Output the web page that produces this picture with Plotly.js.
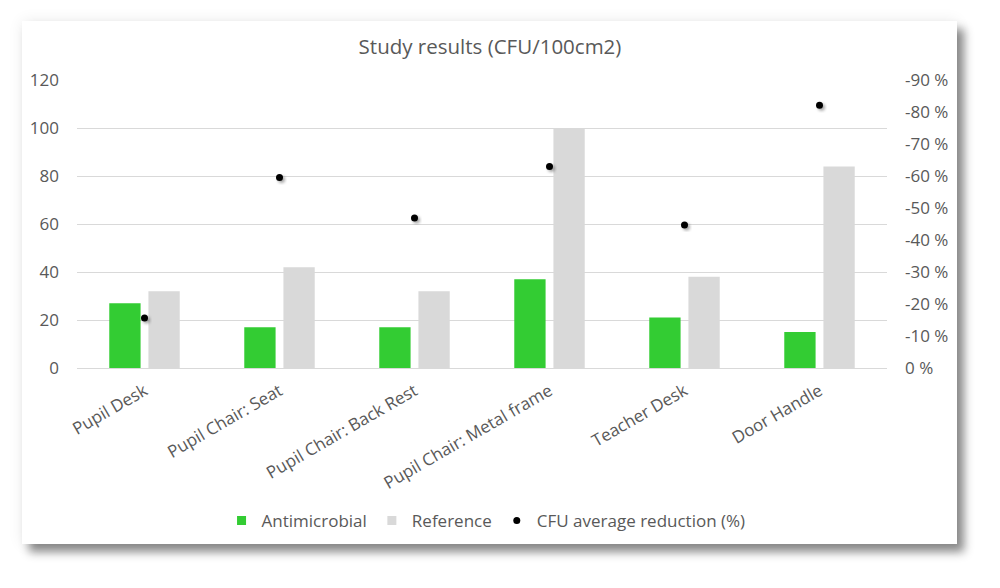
<!DOCTYPE html>
<html>
<head>
<meta charset="utf-8">
<script src="https://cdn.plot.ly/plotly-3.0.1.min.js"></script>
<style>
  html, body { margin: 0; padding: 0; background: #ffffff; width: 1000px; height: 588px; overflow: hidden; }
  #card { position: absolute; left: 22px; top: 21px; width: 935px; height: 523px; background: #ffffff;
          box-shadow: 7px 8px 9px rgba(0,0,0,0.45), 0 0 14px rgba(0,0,0,0.08); }
  #chart { position: absolute; left: 0; top: 0; width: 1000px; height: 588px; }
  .bars path.point, .scatterlayer .points path { filter: url(#dshadow); }
</style>
</head>
<body>
<svg width="0" height="0" style="position:absolute">
  <defs>
    <filter id="dshadow" x="-50%" y="-50%" width="200%" height="200%">
      <feDropShadow dx="2" dy="2" stdDeviation="1.5" flood-color="#000" flood-opacity="0.35"/>
    </filter>
  </defs>
</svg>
<div id="card"></div>
<div id="chart"></div>
<script>
const categories = ["Pupil Desk", "Pupil Chair: Seat", "Pupil Chair: Back Rest", "Pupil Chair: Metal frame", "Teacher Desk", "Door Handle"];
const antimicrobial = [27, 17, 17, 37, 21, 15];
const reference = [32, 42, 32, 100, 38, 84];
const reduction = [-15.6, -59.5, -46.9, -63, -44.7, -82.1];
const rightTickVals = [0, -10, -20, -30, -40, -50, -60, -70, -80, -90];
const rightTickText = ["0 %", "-10 %", "-20 %", "-30 %", "-40 %", "-50 %", "-60 %", "-70 %", "-80 %", "-90 %"];

const fontFam = "'Open Sans', sans-serif";
const txt = "#595959";

const traces = [
  { type: "bar", name: "Antimicrobial", x: categories, y: antimicrobial, marker: { color: "#33cc33" }, hoverinfo: "skip" },
  { type: "bar", name: "Reference", x: categories, y: reference, marker: { color: "#d9d9d9" }, hoverinfo: "skip" },
  { type: "scatter", mode: "markers", name: "CFU average reduction (%)", x: categories, y: reduction, yaxis: "y2",
    marker: { color: "#000000", size: 7 }, hoverinfo: "skip" }
];

const layout = {
  width: 1000, height: 588,
  paper_bgcolor: "rgba(0,0,0,0)", plot_bgcolor: "rgba(0,0,0,0)",
  margin: { l: 77, r: 113, t: 80, b: 220 },
  font: { family: fontFam, size: 17, color: txt },
  title: { text: "Study results (CFU/100cm2)", font: { family: fontFam, size: 20.5, color: txt }, x: 0.49, xanchor: "center", y: 0.92, yanchor: "middle", yref: "container" },
  barmode: "group", bargap: 0.42, bargroupgap: 0.2,
  xaxis: { type: "category", tickangle: -30, showgrid: false, showline: false, zeroline: false, ticks: "", ticklabelstandoff: 9, tickfont: { size: 17, color: txt } },
  yaxis: { range: [0, 120], dtick: 20, showgrid: true, gridcolor: "#d9d9d9", gridwidth: 1, zeroline: true, zerolinecolor: "#d9d9d9", zerolinewidth: 1, showline: false, ticks: "", ticklabelstandoff: 17, tickfont: { size: 17, color: txt } },
  yaxis2: { overlaying: "y", side: "right", range: [0, -90], autorange: false, tickmode: "array", tickvals: rightTickVals, ticktext: rightTickText, showgrid: false, zeroline: false, showline: false, ticks: "", ticklabelstandoff: 17, tickfont: { size: 17, color: txt } },
  legend: { orientation: "h", x: 0.505, xanchor: "center", y: -0.531, yanchor: "middle", font: { size: 17, color: txt }, traceorder: "normal", bgcolor: "rgba(0,0,0,0)" },
  showlegend: true
};

Plotly.newPlot("chart", traces, layout, { staticPlot: true, displayModeBar: false }).then(function (gd) {
  // shrink the bar legend swatches slightly to match the reference
  gd.querySelectorAll(".legend .traces").forEach(function (tr, i) {
    if (i < 2) {
      tr.querySelectorAll(".legendpoints path").forEach(function (p) {
        const t = p.getAttribute("transform") || "";
        p.setAttribute("transform", t + " scale(0.75)");
      });
    }
  });
});
</script>
</body>
</html>
